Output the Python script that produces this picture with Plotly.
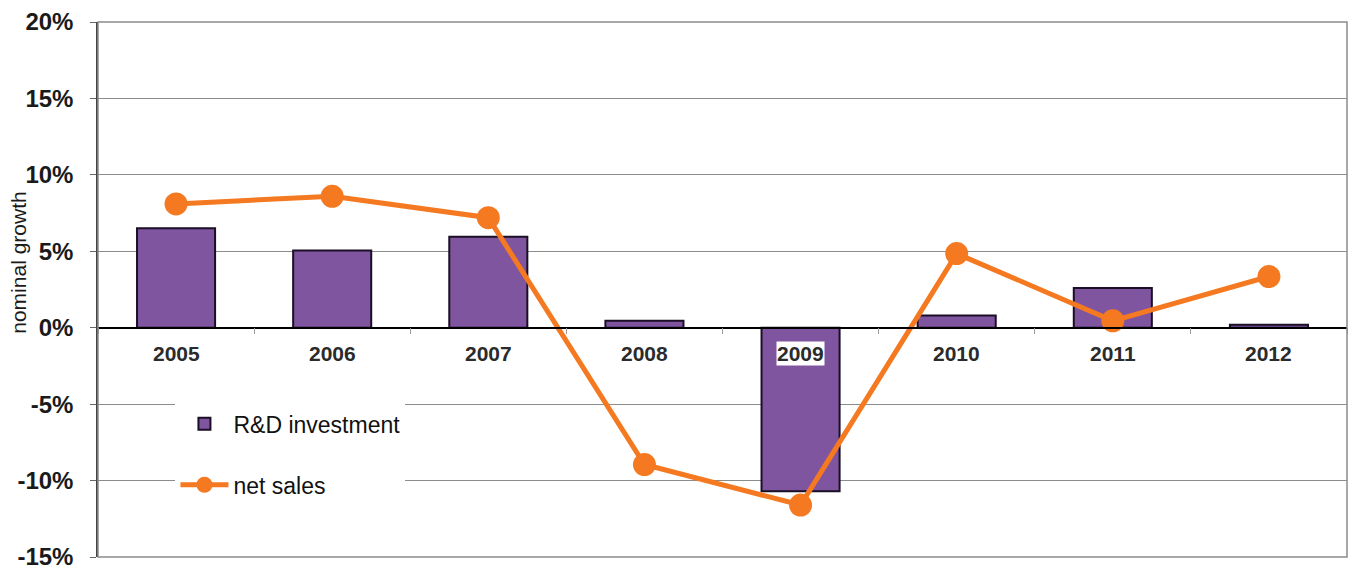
import plotly.graph_objects as go

years = ["2005", "2006", "2007", "2008", "2009", "2010", "2011", "2012"]
rd_investment = [6.5, 5.05, 5.95, 0.45, -10.7, 0.8, 2.6, 0.2]
net_sales = [8.1, 8.6, 7.2, -8.95, -11.6, 4.85, 0.45, 3.35]
y_ticks = [-15, -10, -5, 0, 5, 10, 15, 20]
y_tick_labels = [f"{v}%" for v in y_ticks]

Y_MIN, Y_MAX = -15, 20
PURPLE = "#7F55A0"
ORANGE = "#F47920"
FONT = "Liberation Sans, Arial, sans-serif"

fig = go.Figure()
fig.add_trace(go.Bar(
    x=years, y=rd_investment, name="R&D investment",
    marker=dict(color=PURPLE, line=dict(color="#1A0F24", width=2)),
    width=0.5, legendgroup="a",
))
fig.add_trace(go.Scatter(
    x=years, y=net_sales, name="net sales", mode="lines+markers",
    line=dict(color=ORANGE, width=5),
    marker=dict(color=ORANGE, size=23),
    legendgroup="b",
))

annotations = []
for i, yr in enumerate(years):
    annotations.append(dict(
        x=i, y=0, xref="x", yref="y", text="<b>%s</b>" % yr,
        showarrow=False, xanchor="center", yanchor="top", yshift=-13,
        font=dict(family=FONT, size=21, color="#2B2B2B"),
        bgcolor="white", borderpad=0,
    ))
# y-axis title as rotated text
annotations.append(dict(
    x=0, y=0.55, xref="paper", yref="paper", text="nominal growth",
    textangle=-90, showarrow=False, xanchor="center", yanchor="middle",
    xshift=-79, font=dict(family=FONT, size=21, color="#1A1A1A"),
))

fig.update_layout(
    width=1355, height=571,
    margin=dict(l=90, r=16, t=14, b=22, autoexpand=False),
    paper_bgcolor="white", plot_bgcolor="white",
    font=dict(family=FONT, color="#1A1A1A"),
    showlegend=True,
    annotations=annotations,
    shapes=[dict(type="rect", xref="paper", yref="paper", x0=0, x1=1, y0=0, y1=1,
                 line=dict(color="#8C8C8C", width=1.5), fillcolor="rgba(0,0,0,0)",
                 layer="above")],
    legend=dict(
        x=0.062, y=0.289, xanchor="left", yanchor="top",
        bgcolor="white", font=dict(family=FONT, size=23, color="#111111"),
        traceorder="grouped", tracegroupgap=28, itemwidth=48,
    ),
    xaxis=dict(
        type="category", range=[-0.5, 7.5], automargin=False,
        anchor="free", position=(0 - Y_MIN) / (Y_MAX - Y_MIN),
        showline=True, linecolor="#000000", linewidth=1.5,
        ticks="outside", tickson="boundaries", ticklen=6, tickcolor="#999999",
        showticklabels=False, showgrid=False, zeroline=False,
    ),
    yaxis=dict(
        range=[Y_MIN, Y_MAX], tickvals=y_ticks, ticktext=y_tick_labels,
        automargin=False, ticklabelstandoff=12,
        tickfont=dict(family=FONT, size=24, color="#1A1A1A", weight="bold"),
        showline=True, linecolor="#444444", linewidth=1.5,
        ticks="outside", ticklen=6, tickcolor="#666666",
        showgrid=True, gridcolor="#8C8C8C", gridwidth=1,
        zeroline=False,
    ),
)

fig.write_html("out.html")
